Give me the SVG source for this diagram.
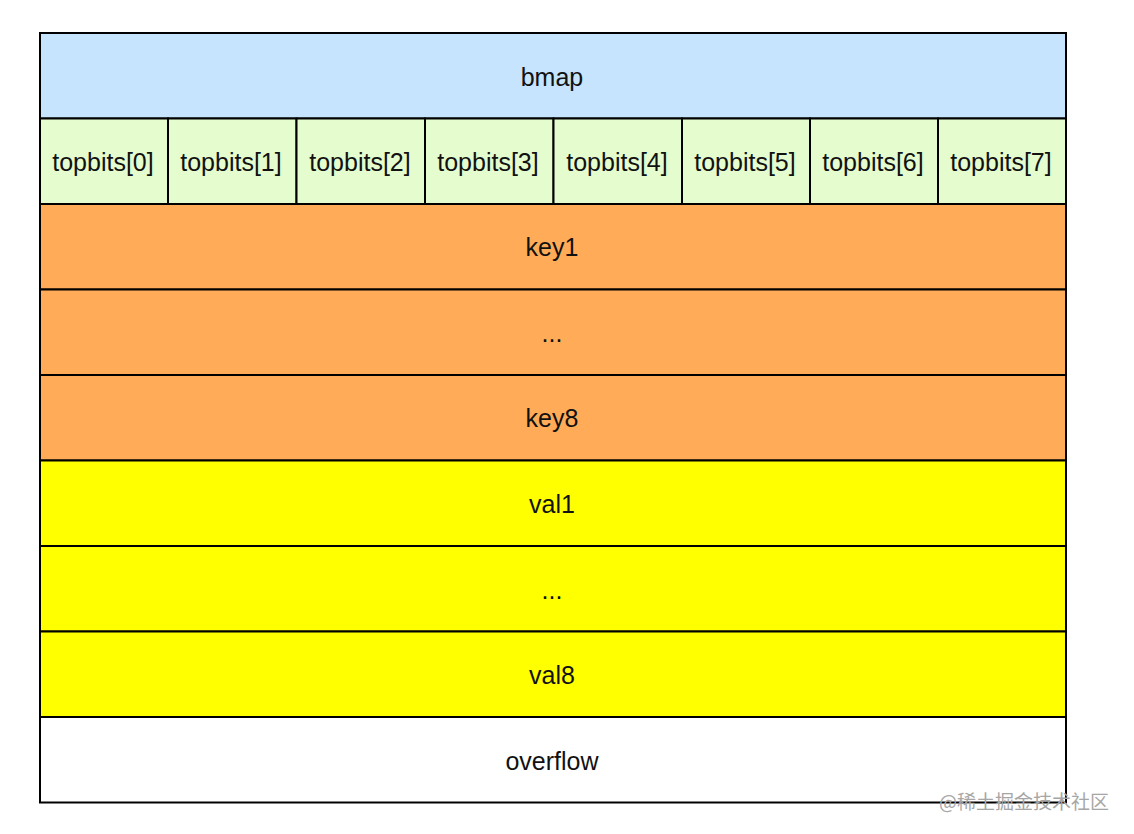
<svg xmlns="http://www.w3.org/2000/svg" width="1134" height="834" viewBox="0 0 1134 834">
<style>
.c{stroke:#000;stroke-width:2}
.t{font-family:"Liberation Sans",Arial,sans-serif;font-size:25px;fill:#111;text-anchor:middle;dominant-baseline:central}
.blue{fill:#c6e4fd}.green{fill:#e4fcce}.orange{fill:#ffab57}.yellow{fill:#ffff00}.white{fill:#fff}
.wm{font-family:"Noto Sans CJK SC","Liberation Sans",sans-serif;font-size:19px;fill:#a6a6a6;text-anchor:middle;dominant-baseline:central}
</style>
<rect width="1134" height="834" fill="#fff"/>
<g id="bmap"><rect class="c blue" x="40" y="33" width="1026" height="85.5"/><text class="t" x="552" y="77">bmap</text></g>
<g id="topbits0"><rect class="c green" x="40" y="118.5" width="128" height="85.5"/><text class="t" x="103" y="162">topbits[0]</text></g>
<g id="topbits1"><rect class="c green" x="168" y="118.5" width="128.5" height="85.5"/><text class="t" x="231" y="162">topbits[1]</text></g>
<g id="topbits2"><rect class="c green" x="296.5" y="118.5" width="128.5" height="85.5"/><text class="t" x="360" y="162">topbits[2]</text></g>
<g id="topbits3"><rect class="c green" x="425" y="118.5" width="128.5" height="85.5"/><text class="t" x="488" y="162">topbits[3]</text></g>
<g id="topbits4"><rect class="c green" x="553.5" y="118.5" width="128.5" height="85.5"/><text class="t" x="617" y="162">topbits[4]</text></g>
<g id="topbits5"><rect class="c green" x="682" y="118.5" width="128" height="85.5"/><text class="t" x="745" y="162">topbits[5]</text></g>
<g id="topbits6"><rect class="c green" x="810" y="118.5" width="128" height="85.5"/><text class="t" x="873" y="162">topbits[6]</text></g>
<g id="topbits7"><rect class="c green" x="938" y="118.5" width="128" height="85.5"/><text class="t" x="1001" y="162">topbits[7]</text></g>
<g id="key1"><rect class="c orange" x="40" y="204" width="1026" height="85.5"/><text class="t" x="552" y="247">key1</text></g>
<g id="keydots"><rect class="c orange" x="40" y="289.5" width="1026" height="85.5"/><text class="t" x="552" y="333">...</text></g>
<g id="key8"><rect class="c orange" x="40" y="375" width="1026" height="85.5"/><text class="t" x="552" y="418">key8</text></g>
<g id="val1"><rect class="c yellow" x="40" y="460.5" width="1026" height="85.5"/><text class="t" x="552" y="504">val1</text></g>
<g id="valdots"><rect class="c yellow" x="40" y="546" width="1026" height="85.5"/><text class="t" x="552" y="590">...</text></g>
<g id="val8"><rect class="c yellow" x="40" y="631.5" width="1026" height="85.5"/><text class="t" x="552" y="675">val8</text></g>
<g id="overflow"><rect class="c white" x="40" y="717" width="1026" height="85.5"/><text class="t" x="552" y="761">overflow</text></g>
<g id="connectors"></g>
<text class="wm" x="1024" y="800">@稀土掘金技术社区</text>
</svg>
